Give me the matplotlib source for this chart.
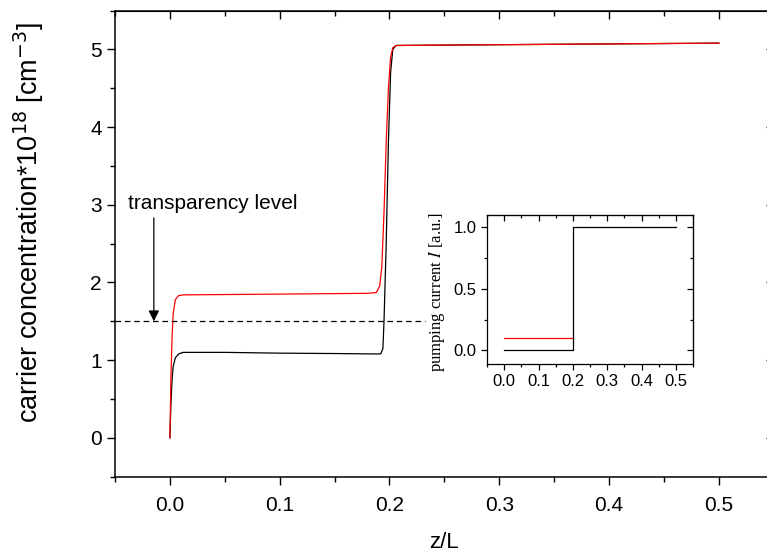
# carrier concentration along the cavity, with pumping current profile as inset

import matplotlib.pyplot as plt
from matplotlib.ticker import MultipleLocator

plt.rcParams['font.family'] = ['Liberation Sans', 'DejaVu Sans']

# carrier concentration (10^18 cm^-3) vs z/L
z_black = [0.0, 0.001, 0.002, 0.003, 0.005, 0.008, 0.012, 0.05, 0.1, 0.15, 0.185,
           0.192, 0.194, 0.195, 0.197, 0.199, 0.201, 0.203, 0.206, 0.25, 0.3, 0.4, 0.5]
n_black = [0.0, 0.45, 0.75, 0.92, 1.03, 1.08, 1.10, 1.10, 1.09, 1.085, 1.08,
           1.08, 1.15, 1.5, 2.5, 3.8, 4.7, 5.0, 5.05, 5.055, 5.06, 5.07, 5.08]

z_red = [0.0, 0.001, 0.002, 0.003, 0.005, 0.008, 0.012, 0.1, 0.18, 0.188,
         0.191, 0.193, 0.195, 0.197, 0.199, 0.201, 0.203, 0.206, 0.25, 0.3, 0.4, 0.5]
n_red = [0.0, 0.8, 1.3, 1.6, 1.78, 1.83, 1.84, 1.85, 1.86, 1.87,
         1.95, 2.2, 2.9, 3.8, 4.5, 4.9, 5.02, 5.05, 5.055, 5.06, 5.07, 5.08]

transparency = 1.5
transp_span = (-0.05, 0.232)

# inset: pumping current profile
z_pump_black = [0.0, 0.2, 0.2, 0.5]
I_black = [0.0, 0.0, 1.0, 1.0]
z_pump_red = [0.0, 0.2]
I_red = [0.1, 0.1]

fig = plt.figure(figsize=(7.67, 5.53), dpi=100)
ax = fig.add_axes([0.1499, 0.138, 0.859, 0.843])

ax.plot(z_black, n_black, color='black', lw=0.9)
ax.plot(z_red, n_red, color='red', lw=0.9)
ax.hlines(transparency, transp_span[0], transp_span[1], colors='black',
          linestyles=(0, (4.5, 3)), lw=0.9)
ax.annotate('', xy=(-0.0146, transparency), xytext=(-0.0146, 2.83),
            arrowprops=dict(arrowstyle='-|>', color='black', lw=0.9,
                            mutation_scale=16, shrinkA=0, shrinkB=0))
ax.text(-0.038, 3.02, 'transparency level', fontsize=15, va='center', ha='left')

ax.set_xlim(-0.05, 0.55)
ax.set_ylim(-0.5, 5.5)
ax.xaxis.set_major_locator(MultipleLocator(0.1))
ax.xaxis.set_minor_locator(MultipleLocator(0.05))
ax.yaxis.set_major_locator(MultipleLocator(1))
ax.yaxis.set_minor_locator(MultipleLocator(0.5))
ax.xaxis.set_major_formatter(lambda v, p: f'{v:.1f}')
ax.tick_params(which='major', direction='out', length=6, width=1, labelsize=15)
ax.tick_params(which='minor', direction='out', length=3.5, width=1)
ax.tick_params(axis='x', pad=8)
for s in ax.spines.values():
    s.set_linewidth(1.1)

# top/right ticks point inwards
top = ax.secondary_xaxis('top')
top.xaxis.set_major_locator(MultipleLocator(0.1))
top.xaxis.set_minor_locator(MultipleLocator(0.05))
top.tick_params(which='both', direction='in', labeltop=False, width=1)
top.tick_params(which='major', length=6)
top.tick_params(which='minor', length=3.5)
right = ax.secondary_yaxis('right')
right.yaxis.set_major_locator(MultipleLocator(1))
right.yaxis.set_minor_locator(MultipleLocator(0.5))
right.tick_params(which='both', direction='in', labelright=False, width=1)
right.tick_params(which='major', length=6)
right.tick_params(which='minor', length=3.5)

ax.set_xlabel('z/L', fontsize=16, labelpad=12)
ax.set_ylabel('carrier concentration*10$^{18}$ [cm$^{-3}$]', fontsize=19.5)
ax.yaxis.set_label_coords(-0.105, 0.546)

# inset
ins = fig.add_axes([0.635, 0.3418, 0.2686, 0.2694])
ins.plot(z_pump_red, I_red, color='red', lw=0.9)
ins.plot(z_pump_black, I_black, color='black', lw=0.9)
ins.set_xlim(-0.05, 0.55)
ins.set_ylim(-0.11, 1.1)
ins.xaxis.set_major_locator(MultipleLocator(0.1))
ins.xaxis.set_minor_locator(MultipleLocator(0.05))
ins.yaxis.set_major_locator(MultipleLocator(0.5))
ins.yaxis.set_minor_locator(MultipleLocator(0.25))
ins.xaxis.set_major_formatter(lambda v, p: f'{v:.1f}')
ins.tick_params(which='major', direction='out', length=4, width=0.9, labelsize=12)
ins.tick_params(which='minor', direction='out', length=2.5, width=0.9)
for s in ins.spines.values():
    s.set_linewidth(0.9)
itop = ins.secondary_xaxis('top')
itop.xaxis.set_major_locator(MultipleLocator(0.1))
itop.xaxis.set_minor_locator(MultipleLocator(0.05))
itop.tick_params(which='both', direction='in', labeltop=False, width=0.9)
itop.tick_params(which='major', length=4)
itop.tick_params(which='minor', length=2.5)
iright = ins.secondary_yaxis('right')
iright.yaxis.set_major_locator(MultipleLocator(0.5))
iright.yaxis.set_minor_locator(MultipleLocator(0.25))
iright.tick_params(which='both', direction='in', labelright=False, width=0.9)
iright.tick_params(which='major', length=4)
iright.tick_params(which='minor', length=2.5)
ins.text(-0.245, 0.48, 'pumping current $I$ [a.u.]', transform=ins.transAxes,
         rotation=90, ha='center', va='center', fontsize=12,
         family=['Liberation Serif', 'DejaVu Serif'], math_fontfamily='stix')

fig.savefig('out.png', dpi=100)
